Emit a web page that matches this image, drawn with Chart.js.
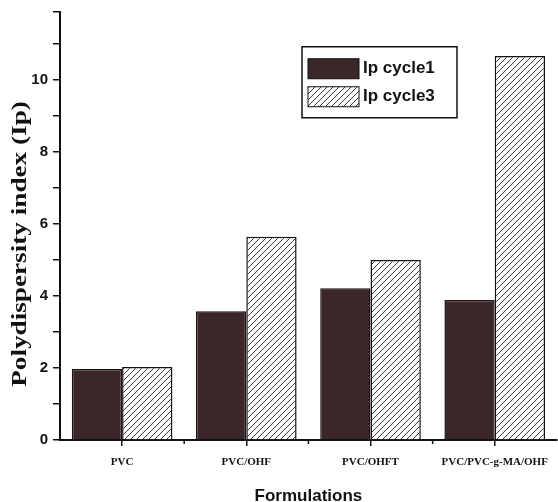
<!DOCTYPE html>
<html>
<head>
<meta charset="utf-8">
<script src="https://cdn.jsdelivr.net/npm/chart.js@4/dist/chart.umd.min.js"></script>
<style>
    html, body { margin: 0; padding: 0; background: #fff; }
    #wrap { width: 558px; height: 502px; }
</style>
</head>
<body>
<div id="wrap"><canvas id="chart"></canvas></div>
<script>
var categories = ['PVC', 'PVC/OHF', 'PVC/OHFT', 'PVC/PVC-g-MA/OHF'];
var cycle1 = [1.97, 3.58, 4.22, 3.89];
var cycle3 = [2.03, 5.65, 5.0, 10.67];
var seriesLabels = ['Ip cycle1', 'Ip cycle3'];
var yTitle = 'Polydispersity index (Ip)';

function hatch() {
    var c = document.createElement('canvas');
    c.width = 6; c.height = 6;
    var g = c.getContext('2d');
    g.fillStyle = '#fff';
    g.fillRect(0, 0, 6, 6);
    g.strokeStyle = '#3a3a3a';
    g.lineWidth = 1;
    g.beginPath();
    g.moveTo(0, 6); g.lineTo(6, 0);
    g.moveTo(-1, 1); g.lineTo(1, -1);
    g.moveTo(5, 7); g.lineTo(7, 5);
    g.stroke();
    return g.createPattern(c, 'repeat');
}

var hatchFill = hatch();

// legend box drawn inside the plot area
var boxLegend = {
    id: 'boxLegend',
    afterDraw: function(chart) {
        var ctx = chart.ctx, a = chart.chartArea;
        var x = a.left + 242, y = a.top + 35;
        ctx.save();
        ctx.lineWidth = 1.5;
        ctx.strokeStyle = '#111';
        ctx.strokeRect(x, y, 155, 71);
        ctx.font = 'bold 17px "Liberation Sans", Arial, sans-serif';
        ctx.textBaseline = 'middle';
        chart.data.datasets.forEach(function(ds, i) {
            var sy = y + 12 + i * 28;
            ctx.fillStyle = ds.backgroundColor;
            ctx.fillRect(x + 6, sy, 51, 20);
            ctx.strokeStyle = '#111';
            ctx.lineWidth = 1;
            ctx.strokeRect(x + 6, sy, 51, 20);
            ctx.fillStyle = '#111';
            ctx.fillText(ds.label, x + 61, sy + 10);
        });
        ctx.restore();
    }
};

// small ticks between the categories, and the stretched y title
var extras = {
    id: 'extras',
    afterDraw: function(chart) {
        var ctx = chart.ctx, xs = chart.scales.x, a = chart.chartArea;
        var step = xs.getPixelForValue(1) - xs.getPixelForValue(0);
        ctx.save();
        ctx.strokeStyle = '#111';
        ctx.lineWidth = 1.5;
        for (var i = 0; i < categories.length - 1; i++) {
            var px = xs.getPixelForValue(i) + step / 2;
            ctx.beginPath();
            ctx.moveTo(px, a.bottom);
            ctx.lineTo(px, a.bottom + 4);
            ctx.stroke();
        }
        ctx.translate(26, 244);
        ctx.rotate(-Math.PI / 2);
        ctx.scale(1.36, 1);
        ctx.font = 'bold 20px "Liberation Serif", "Times New Roman", serif';
        ctx.fillStyle = '#111';
        ctx.textAlign = 'center';
        ctx.textBaseline = 'alphabetic';
        ctx.fillText(yTitle, 0, 0);
        ctx.restore();
    }
};

new Chart(document.getElementById('chart').getContext('2d'), {
    type: 'bar',
    data: {
        labels: categories,
        datasets: [
            {
                label: seriesLabels[0],
                data: cycle1,
                backgroundColor: '#3b2727',
                borderColor: '#1a1010',
                borderWidth: 1.5,
                categoryPercentage: 0.81,
                barPercentage: 1.0
            },
            {
                label: seriesLabels[1],
                data: cycle3,
                backgroundColor: hatchFill,
                borderColor: '#111',
                borderWidth: 1.5,
                categoryPercentage: 0.81,
                barPercentage: 1.0
            }
        ]
    },
    options: {
        responsive: true,
        maintainAspectRatio: false,
        animation: false,
        layout: { padding: { top: 4, right: 1, left: 0, bottom: 0 } },
        plugins: {
            legend: { display: false },
            tooltip: { enabled: false }
        },
        scales: {
            x: {
                afterFit: function(s) { s.height = 62; },
                border: { display: true, color: '#111', width: 2 },
                grid: { display: true, drawOnChartArea: false, offset: false, tickLength: 6, color: '#111', lineWidth: 1.5 },
                ticks: {
                    color: '#111',
                    padding: 10,
                    maxRotation: 0,
                    font: { family: '"Liberation Serif", "Times New Roman", serif', size: 11, weight: 'bold' }
                },
                title: {
                    display: true,
                    text: 'Formulations',
                    color: '#111',
                    padding: { top: 4, bottom: -5 },
                    font: { family: '"Liberation Sans", Arial, sans-serif', size: 17, weight: 'bold' }
                }
            },
            y: {
                min: 0,
                max: 11.9,
                afterFit: function(s) { s.width = 60; },
                border: { display: true, color: '#111', width: 2 },
                grid: { display: true, drawOnChartArea: false, tickLength: 7, color: '#111', lineWidth: 1.5 },
                ticks: {
                    stepSize: 1,
                    color: '#111',
                    padding: 5,
                    font: { family: '"Liberation Sans", Arial, sans-serif', size: 15, weight: 'bold', lineHeight: 0.9 },
                    callback: function(v) { return v % 2 === 0 ? v : ''; }
                },
                title: { display: false }
            }
        }
    },
    plugins: [boxLegend, extras]
});
</script>
</body>
</html>
